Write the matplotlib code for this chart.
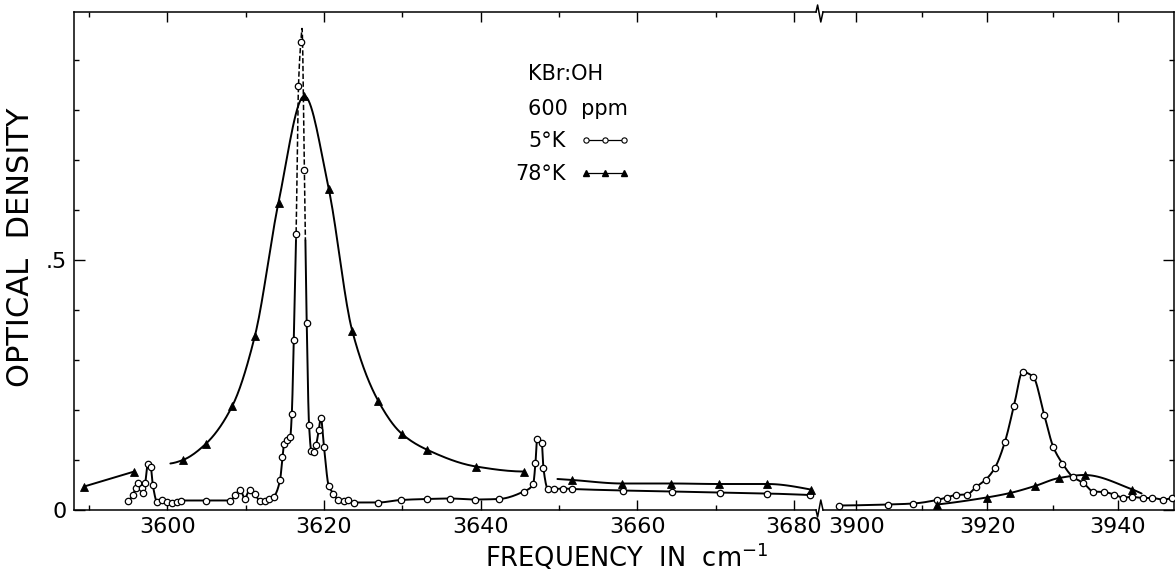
import numpy as np
import matplotlib
matplotlib.use("Agg")
import matplotlib.pyplot as plt
from matplotlib.lines import Line2D
from matplotlib.ticker import MultipleLocator, FixedLocator

# ---------------------------------------------------------------- data
# KBr:OH, 600 ppm -- optical density versus frequency (cm^-1)

# 5 K, OH stretching region
k5_low_freq = [3595.0, 3595.6, 3596.0, 3596.25, 3596.8, 3596.9, 3597.2, 3597.5,
               3597.9, 3598.15, 3598.7, 3599.3, 3600.0, 3600.6, 3601.2, 3601.8,
               3604.9, 3608.0, 3608.7, 3609.3, 3609.9, 3610.5, 3611.2, 3611.8,
               3612.5, 3613.0, 3613.6, 3614.4, 3614.7, 3614.9, 3615.3, 3615.7,
               3615.9, 3616.15, 3616.45, 3616.75, 3617.05, 3617.5, 3617.8, 3618.1,
               3618.4, 3618.75, 3619.0, 3619.35, 3619.6, 3620.0, 3620.6, 3621.2,
               3621.8, 3622.5, 3623.1, 3623.8, 3626.9, 3629.8, 3633.1, 3636.1,
               3639.3, 3642.3, 3645.5, 3646.7, 3647.0, 3647.2, 3647.8, 3648.0,
               3648.6, 3649.3, 3650.5, 3651.7, 3658.2, 3664.4, 3670.5, 3676.6,
               3682.0]
k5_low_od = [0.018, 0.030, 0.045, 0.055, 0.044, 0.034, 0.055, 0.092,
             0.086, 0.051, 0.017, 0.020, 0.017, 0.014, 0.017, 0.019,
             0.019, 0.019, 0.030, 0.041, 0.023, 0.040, 0.032, 0.018,
             0.018, 0.022, 0.027, 0.060, 0.106, 0.133, 0.140, 0.147,
             0.193, 0.340, 0.553, 0.848, 0.937, 0.680, 0.375, 0.170,
             0.118, 0.117, 0.130, 0.161, 0.185, 0.127, 0.049, 0.033,
             0.020, 0.018, 0.020, 0.015, 0.015, 0.020, 0.022, 0.023,
             0.021, 0.022, 0.037, 0.052, 0.095, 0.143, 0.135, 0.085,
             0.042, 0.042, 0.043, 0.042, 0.039, 0.037, 0.035, 0.033,
             0.030]
# top of the sharp 5 K line (traced, not a measured point)
k5_apex_freq = 3617.2
k5_apex_od = 0.963
# above this density the 5 K trace is only sketched (dashed)
k5_dashed_above = 0.54

# 5 K, second band
k5_high_freq = [3897.4, 3904.9, 3908.7, 3912.3, 3913.8, 3915.2, 3916.9, 3918.3,
                3919.8, 3921.2, 3922.7, 3924.1, 3925.4, 3927.0, 3928.7, 3930.1,
                3931.5, 3933.1, 3934.7, 3936.2, 3937.8, 3939.4, 3940.7, 3942.2,
                3943.8, 3945.2, 3946.8, 3948.2]
k5_high_od = [0.009, 0.011, 0.013, 0.020, 0.025, 0.030, 0.031, 0.046,
              0.061, 0.085, 0.136, 0.209, 0.276, 0.267, 0.191, 0.126,
              0.093, 0.066, 0.054, 0.037, 0.036, 0.031, 0.025, 0.026,
              0.024, 0.024, 0.021, 0.024]

# 78 K, drawn as separate runs
k78_run1_freq = [3589.4, 3595.8]
k78_run1_od = [0.047, 0.077]

k78_run2_start = (3600.4, 0.093)
k78_run2_freq = [3602.0, 3604.9, 3608.3, 3611.2, 3614.2, 3617.5, 3620.6, 3623.6,
                 3626.9, 3629.9, 3633.1, 3639.4, 3645.5]
k78_run2_od = [0.100, 0.132, 0.208, 0.349, 0.615, 0.828, 0.643, 0.359,
               0.219, 0.153, 0.121, 0.087, 0.077]

k78_run3_start = (3649.8, 0.062)
k78_run3_freq = [3651.7, 3658.1, 3664.3, 3670.4, 3676.6, 3682.1]
k78_run3_od = [0.060, 0.053, 0.053, 0.052, 0.052, 0.041]

k78_high_freq = [3912.3, 3919.9, 3923.5, 3927.3, 3931.0, 3934.9, 3942.2]
k78_high_od = [0.011, 0.025, 0.034, 0.048, 0.064, 0.070, 0.041]
k78_high_end = (3943.6, 0.033)

# axes
low_xlim = (3588.1, 3682.8)
high_xlim = (3894.9, 3948.55)
od_lim = (0.0, 0.996)
low_major_ticks = [3600, 3620, 3640, 3660, 3680]
high_major_ticks = [3900, 3920, 3940]
od_ticks = [0.0, 0.5]
od_ticklabels = ["0", ".5"]

legend_title_lines = ["KBr:OH", "600  ppm"]
legend_labels = ["5°K", "78°K"]


# ---------------------------------------------------------------- helpers
def pchip(x, y, per=18):
    """Shape-preserving cubic through the points, for a smooth pen trace."""
    x = np.asarray(x, float)
    y = np.asarray(y, float)
    n = len(x)
    if n < 3:
        return x, y
    h = np.diff(x)
    d = np.diff(y) / h
    m = np.zeros(n)
    for k in range(1, n - 1):
        if d[k - 1] * d[k] > 0:
            w1 = 2 * h[k] + h[k - 1]
            w2 = h[k] + 2 * h[k - 1]
            m[k] = (w1 + w2) / (w1 / d[k - 1] + w2 / d[k])

    def end_slope(h0, h1, d0, d1):
        s = ((2 * h0 + h1) * d0 - h0 * d1) / (h0 + h1)
        if np.sign(s) != np.sign(d0):
            return 0.0
        if np.sign(d0) != np.sign(d1) and abs(s) > abs(3 * d0):
            return 3 * d0
        return s

    m[0] = end_slope(h[0], h[1], d[0], d[1])
    m[-1] = end_slope(h[-1], h[-2], d[-1], d[-2])
    xs, ys = [], []
    t = np.linspace(0, 1, per, endpoint=False)
    h00 = 2 * t**3 - 3 * t**2 + 1
    h10 = t**3 - 2 * t**2 + t
    h01 = -2 * t**3 + 3 * t**2
    h11 = t**3 - t**2
    for k in range(n - 1):
        xs.append(x[k] + t * h[k])
        ys.append(h00 * y[k] + h10 * h[k] * m[k] + h01 * y[k + 1] + h11 * h[k] * m[k + 1])
    xs.append([x[-1]])
    ys.append([y[-1]])
    return np.concatenate(xs), np.concatenate(ys)


LW = 1.4
circle_kw = dict(marker="o", ms=4.6, mfc="white", mec="black", mew=0.9,
                 ls="none", clip_on=False, zorder=4)
tri_kw = dict(marker="^", ms=5.6, mfc="black", mec="black", mew=0.6,
              ls="none", clip_on=False, zorder=4)
line_kw = dict(color="black", lw=LW, solid_capstyle="round", zorder=3)

plt.rcParams["font.family"] = ["DejaVu Sans"]

W, H = 1175, 575
fig = plt.figure(figsize=(W / 100, H / 100), dpi=100)

# pixel frame of the two panels
left_px, break_l_px, break_r_px, right_px = 74, 816, 823, 1174
top_px, bottom_px = 12, 510
fb = (H - bottom_px) / H
fh = (bottom_px - top_px) / H
ax1 = fig.add_axes([left_px / W, fb, (break_l_px - left_px) / W, fh])
ax2 = fig.add_axes([break_r_px / W, fb, (right_px - break_r_px) / W, fh])

# ---------------------------------------------------------------- low window
# 5 K trace with its sketched peak top
f5 = np.array(k5_low_freq, float)
o5 = np.array(k5_low_od, float)
pos = np.searchsorted(f5, k5_apex_freq)
f5c = np.insert(f5, pos, k5_apex_freq)
o5c = np.insert(o5, pos, k5_apex_od)
xs, ys = pchip(f5c, o5c)
above = ys >= k5_dashed_above
above_ext = above | np.roll(above, 1) | np.roll(above, -1)
ax1.plot(xs, np.where(~above, ys, np.nan), **line_kw)
ax1.plot(xs, np.where(above_ext, ys, np.nan), color="black", lw=1.1,
         ls=(0, (3.5, 1.6)), zorder=3)
ax1.plot(k5_low_freq, k5_low_od, **circle_kw)

# 78 K runs
xs, ys = pchip(k78_run1_freq, k78_run1_od)
ax1.plot(xs, ys, **line_kw)
ax1.plot(k78_run1_freq, k78_run1_od, **tri_kw)

xs, ys = pchip([k78_run2_start[0]] + k78_run2_freq, [k78_run2_start[1]] + k78_run2_od)
ax1.plot(xs, ys, **line_kw)
ax1.plot(k78_run2_freq, k78_run2_od, **tri_kw)

xs, ys = pchip([k78_run3_start[0]] + k78_run3_freq, [k78_run3_start[1]] + k78_run3_od)
ax1.plot(xs, ys, **line_kw)
ax1.plot(k78_run3_freq, k78_run3_od, **tri_kw)

# ---------------------------------------------------------------- high window
xs, ys = pchip(k5_high_freq, k5_high_od)
ax2.plot(xs, ys, **line_kw)
ax2.plot(k5_high_freq, k5_high_od, **circle_kw)

xs, ys = pchip(k78_high_freq + [k78_high_end[0]], k78_high_od + [k78_high_end[1]])
ax2.plot(xs, ys, **line_kw)
ax2.plot(k78_high_freq, k78_high_od, **tri_kw)

# ---------------------------------------------------------------- axes styling
TICK_FS = 16
for ax in (ax1, ax2):
    ax.set_ylim(*od_lim)
    for s in ax.spines.values():
        s.set_linewidth(1.1)
    ax.tick_params(axis="both", which="both", direction="in", width=1.0,
                   top=True, labelsize=TICK_FS, colors="black")
    ax.tick_params(axis="x", which="major", length=7, pad=5)
    ax.tick_params(axis="x", which="minor", length=3.5)
    ax.xaxis.set_minor_locator(MultipleLocator(10))
    ax.yaxis.set_minor_locator(MultipleLocator(0.1))

ax1.set_xlim(*low_xlim)
ax1.xaxis.set_major_locator(FixedLocator(low_major_ticks))
ax1.spines["right"].set_visible(False)
ax1.set_yticks(od_ticks, od_ticklabels)
ax1.tick_params(axis="y", which="major", length=8, pad=5, right=False)
ax1.tick_params(axis="y", which="minor", length=3.5, right=False)

ax2.set_xlim(*high_xlim)
ax2.xaxis.set_major_locator(FixedLocator(high_major_ticks))
ax2.spines["left"].set_visible(False)
ax2.set_yticks(od_ticks)
ax2.tick_params(axis="y", which="both", left=False, right=True,
                labelleft=False, labelright=False)
ax2.tick_params(axis="y", which="major", length=8)
ax2.tick_params(axis="y", which="minor", length=3.5)

ax1.set_ylabel("OPTICAL  DENSITY", fontsize=22)
ax1.yaxis.set_label_coords(-0.053, 0.527)

fig.text(627 / W, 1 - 567 / H, "FREQUENCY  IN  cm$^{-1}$", fontsize=18.5,
         ha="center", va="baseline")

# axis-break marks on the top and bottom frame lines
def zigzag(y_px, up):
    s = -1 if up else 1
    xs_ = [break_l_px, break_l_px + 1.6, break_l_px + 4.8, break_r_px]
    ys_ = [y_px, y_px + s * 7, y_px - s * 10, y_px]
    fig.add_artist(Line2D([x / W for x in xs_], [1 - y / H for y in ys_],
                          transform=fig.transFigure, color="black", lw=1.1))

zigzag(top_px, up=True)
zigzag(bottom_px, up=False)

# ---------------------------------------------------------------- key
LEG_FS = 15
ax1.text(528 / W, 1 - 80 / H, legend_title_lines[0], transform=fig.transFigure,
         fontsize=LEG_FS, ha="left", va="baseline")
ax1.text(528 / W, 1 - 115 / H, legend_title_lines[1], transform=fig.transFigure,
         fontsize=LEG_FS, ha="left", va="baseline")
h5 = Line2D([], [], color="black", lw=0.9, marker="o", ms=3.8, mfc="white",
            mec="black", mew=0.8)
h78 = Line2D([], [], color="black", lw=0.9, marker="^", ms=4.6, mfc="black",
             mec="black")
leg = ax1.legend([h5, h78], legend_labels, markerfirst=False, numpoints=3,
                 frameon=False, fontsize=LEG_FS, handlelength=2.4,
                 handletextpad=0.7, labelspacing=0.62, borderpad=0,
                 borderaxespad=0, loc="upper right",
                 bbox_to_anchor=(630 / W, 1 - 131 / H),
                 bbox_transform=fig.transFigure)

fig.savefig("out.png", dpi=100, facecolor="white")
